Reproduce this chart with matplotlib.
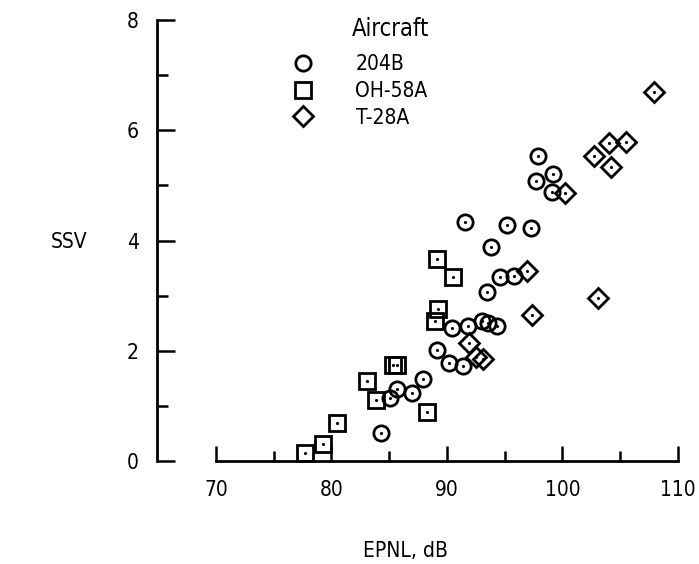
import matplotlib
matplotlib.use("Agg")
import matplotlib.pyplot as plt
from matplotlib.lines import Line2D

plt.rcParams['font.family'] = ['DejaVu Sans']
plt.rcParams['font.stretch'] = 'condensed'

# 204B (circles)
b204_epnl = [84.3, 85.1, 85.7, 87.0, 87.9, 89.1, 90.2, 91.4, 90.4, 91.8, 93.0, 93.6,
             94.3, 93.5, 93.8, 94.6, 95.8, 91.6, 95.2, 97.3, 97.9, 97.7, 99.2, 99.1]
b204_ssv = [0.51, 1.14, 1.31, 1.23, 1.49, 2.01, 1.78, 1.73, 2.41, 2.45, 2.54, 2.50,
            2.45, 3.07, 3.89, 3.34, 3.36, 4.33, 4.28, 4.23, 5.54, 5.08, 5.21, 4.88]

# OH-58A (squares)
oh58_epnl = [77.7, 79.3, 80.5, 83.1, 83.9, 85.3, 85.7, 88.3, 89.0, 89.2, 89.1, 90.5]
oh58_ssv = [0.15, 0.31, 0.69, 1.45, 1.11, 1.74, 1.74, 0.89, 2.54, 2.76, 3.67, 3.34]

# T-28A (diamonds)
t28_epnl = [91.9, 92.5, 93.1, 96.9, 97.4, 100.2, 102.7, 104.0, 105.5, 104.2, 107.9, 103.1]
t28_ssv = [2.14, 1.88, 1.86, 3.45, 2.65, 4.86, 5.54, 5.77, 5.79, 5.34, 6.70, 2.96]

aircraft = ['204B', 'OH-58A', 'T-28A']
markers = ['o', 's', 'D']

W, H = 699, 564
fig = plt.figure(figsize=(W / 100, H / 100), dpi=100)

# axes placed so that the y axis sits at x=157 px and y=0 at 461 px
xlim = (64.9, 111.5)
ylim = (0, 8.25)
px_per_db = 11.55
px_per_unit = 55.1
left_px = 157
bot_px = 461
ax = fig.add_axes([left_px / W, (H - bot_px) / H,
                   (xlim[1] - xlim[0]) * px_per_db / W,
                   (ylim[1] - ylim[0]) * px_per_unit / H])
ax.set_xlim(*xlim)
ax.set_ylim(*ylim)

for xs, ys, m in zip([b204_epnl, oh58_epnl, t28_epnl],
                     [b204_ssv, oh58_ssv, t28_ssv], markers):
    ax.plot(xs, ys, linestyle='none', marker=m, ms=11 if m != 'D' else 10.6,
            mfc='none', mec='black', mew=2.0, clip_on=False)
    ax.plot(xs, ys, linestyle='none', marker='.', ms=2.5, color='black', clip_on=False)

# axes styling: separate y axis and offset x axis
for s in ['top', 'right']:
    ax.spines[s].set_visible(False)
ax.spines['left'].set_bounds(0, 8)
ax.spines['bottom'].set_bounds(70, 110)
ax.spines['left'].set_linewidth(2.0)
ax.spines['bottom'].set_linewidth(2.0)

ax.set_xticks([70, 80, 90, 100, 110])
ax.set_xticks([75, 85, 95, 105], minor=True)
ax.set_yticks([0, 2, 4, 6, 8])
ax.set_yticks([1, 3, 5, 7], minor=True)
ax.tick_params(axis='y', which='major', direction='in', length=13, width=1.8,
               pad=13, labelsize=15)
ax.tick_params(axis='y', which='minor', direction='in', length=8, width=1.8)
ax.tick_params(axis='x', which='major', direction='in', length=11, width=1.8,
               pad=14, labelsize=15)
ax.tick_params(axis='x', which='minor', direction='in', length=7, width=1.8)

fig.text(69 / W, 1 - 242 / H, 'SSV', fontsize=15, ha='center', va='center')
fig.text(405 / W, 1 - 551 / H, 'EPNL, dB', fontsize=15, ha='center', va='center')

# legend
fig.text(352 / W, 1 - 29 / H, 'Aircraft', fontsize=17, ha='left', va='center')
handles = [Line2D([], [], linestyle='none', marker=m, ms=11 if m != 'D' else 10.6,
                  mfc='none', mec='black', mew=2.0) for m in markers]
fig.legend(handles, aircraft, loc='upper left',
           bbox_to_anchor=(293 / W, 1 - 54 / H), frameon=False, fontsize=15,
           handlelength=1.0, handletextpad=2.0, labelspacing=0.33, borderpad=0,
           borderaxespad=0, numpoints=1)

fig.savefig('out.png', dpi=100)
